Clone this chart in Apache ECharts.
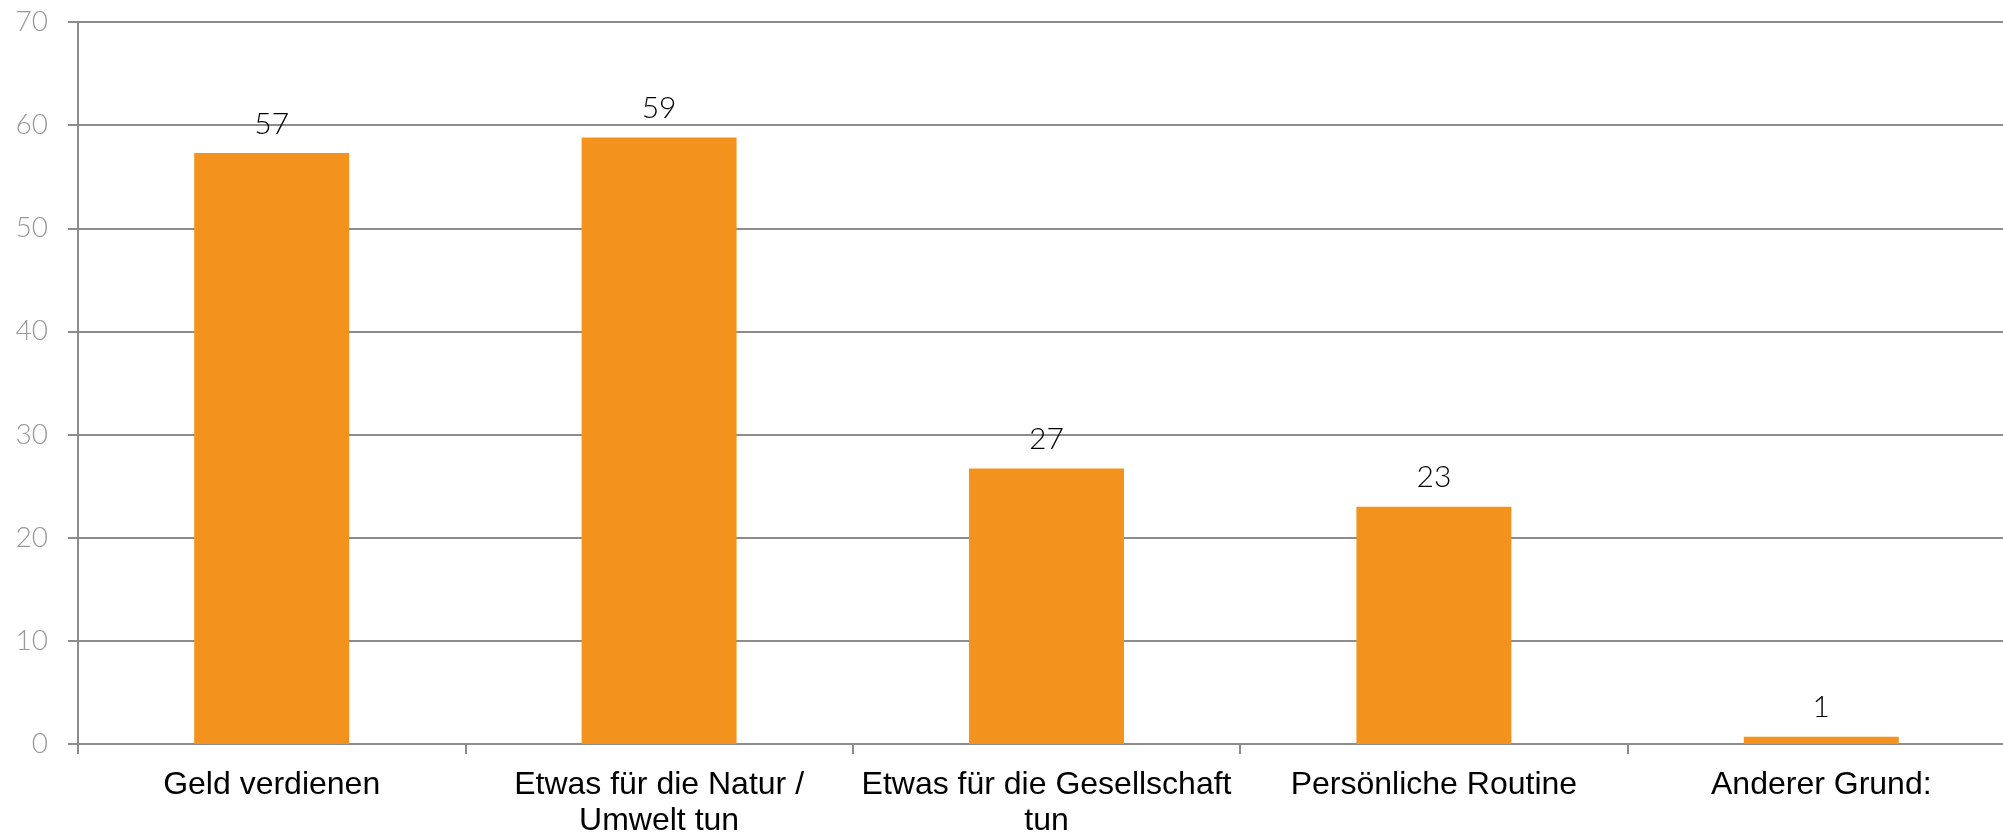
<!DOCTYPE html>
<html>
<head>
<meta charset="utf-8">
<script src="https://cdn.jsdelivr.net/npm/echarts@6/dist/echarts.min.js"></script>
<style>
  html, body { margin: 0; padding: 0; background: #fff; }
  #chart { width: 2003px; height: 833px; }
</style>
</head>
<body>
<div id="chart"></div>
<script>
const categories = [
  "Geld verdienen",
  "Etwas für die Natur /\nUmwelt tun",
  "Etwas für die Gesellschaft\ntun",
  "Persönliche Routine",
  "Anderer Grund:"
];
const values = [57.3, 58.8, 26.7, 23.0, 0.7];
const valueLabels = ["57", "59", "27", "23", "1"];

const myChart = echarts.init(document.getElementById("chart"));
myChart.setOption({
  animation: false,
  grid: { left: 78, right: -12, top: 22, bottom: 89, outerBoundsMode: "none", containLabel: false },
  xAxis: {
    type: "category",
    data: categories,
    axisLine: { lineStyle: { color: "#8c8c8c", width: 2 } },
    axisTick: { show: true, length: 10, lineStyle: { color: "#8c8c8c", width: 2 } },
    axisLabel: {
      color: "#000",
      fontFamily: "Liberation Sans, Arial",
      fontSize: 32,
      lineHeight: 36,
      margin: 23,
      interval: 0
    }
  },
  yAxis: {
    type: "value",
    min: 0,
    max: 70,
    interval: 10,
    axisLine: { show: true, lineStyle: { color: "#8c8c8c", width: 2 } },
    axisTick: { show: true, length: 10, lineStyle: { color: "#8c8c8c", width: 2 } },
    splitLine: { lineStyle: { color: "#8c8c8c", width: 2 } },
    axisLabel: {
      color: "#9a9a9a",
      fontFamily: "Lato",
      fontWeight: 300,
      fontSize: 28,
      margin: 30
    }
  },
  series: [
    {
      type: "bar",
      data: values,
      barWidth: "40%",
      itemStyle: { color: "#F3921C" },
      label: {
        show: true,
        position: "top",
        distance: 14,
        color: "#000",
        fontFamily: "Lato",
        fontWeight: 300,
        fontSize: 30,
        formatter: (p) => valueLabels[p.dataIndex]
      }
    }
  ]
});
</script>
</body>
</html>
